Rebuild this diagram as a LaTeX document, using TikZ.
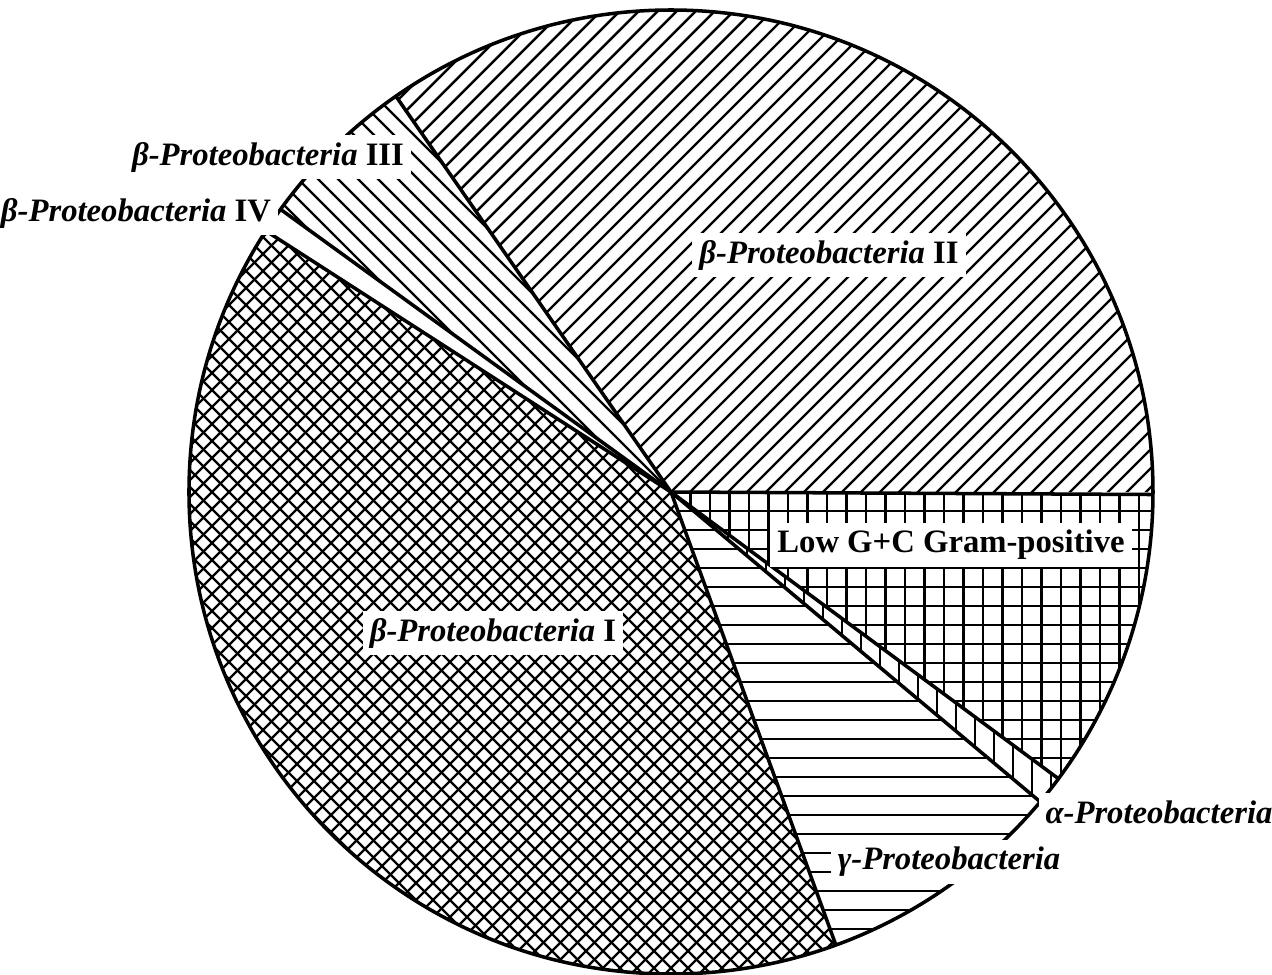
\documentclass[tikz,border=0pt]{standalone}
\usepackage{fontspec}
\setmainfont{Liberation Serif}
\tikzset{
  hatch/.style={line width=0.7pt},
  rim/.style={line width=1pt},
  lbl/.style={fill=white, inner sep=2pt, font=\fontsize{9.3}{11}\selectfont\bfseries},
}
\newcommand{\rad}{4.82}
\begin{document}
\begin{tikzpicture}
\useasboundingbox (-6.71,-4.83) rectangle (6.01,4.92);
\coordinate (O) at (0,0);
% beta II
\begin{scope}
\clip (O) -- (0:\rad) arc (0:124.8:\rad) -- cycle;
\foreach \i in {-36,...,36} \draw[hatch] (\i*0.19,0) ++(-6,-6) -- ++(12,12);
\end{scope}
% beta III
\begin{scope}
\clip (O) -- (124.8:\rad) arc (124.8:144.1:\rad) -- cycle;
\foreach \i in {-36,...,36} \draw[hatch] (\i*0.2,0) ++(-6,6) -- ++(12,-12);
\end{scope}
% beta I
\begin{scope}
\clip (O) -- (147.2:\rad) arc (147.2:290:\rad) -- cycle;
\foreach \i in {-40,...,40} {
  \draw[hatch] (\i*0.17,0) ++(-6,-6) -- ++(12,12);
  \draw[hatch] (\i*0.17,0) ++(-6,6) -- ++(12,-12);
}
\end{scope}
% gamma
\begin{scope}
\clip (O) -- (290:\rad) arc (290:320:\rad) -- cycle;
\foreach \i in {-26,...,0} \draw[hatch] (-1,\i*0.19) -- (6,\i*0.19);
\end{scope}
% alpha
\begin{scope}
\clip (O) -- (320:\rad) arc (320:323.5:\rad) -- cycle;
\foreach \i in {0,...,26} \draw[hatch] (\i*0.19,1) -- (\i*0.19,-6);
\end{scope}
% low G+C
\begin{scope}
\clip (O) -- (323.5:\rad) arc (323.5:359.7:\rad) -- cycle;
\foreach \i in {0,...,26} {
  \draw[hatch] (\i*0.195,1) -- (\i*0.195,-6);
  \draw[hatch] (-1,-\i*0.19) -- (6,-\i*0.19);
}
\end{scope}
% slice edges
\foreach \a in {-0.3,124.8,144.1,147.2,290,320,323.5}
  \draw[rim] (O) -- (\a:\rad);
\draw[rim] (O) circle (\rad);
% labels
\node (b2) at (1.58,2.37) [lbl] {\textit{β-Proteobacteria} II};
\node (b3) at (-4.03,3.35) [lbl] {\textit{β-Proteobacteria} III};
\node (b4) at (-5.35,2.79) [lbl] {\textit{β-Proteobacteria} IV};
\node (gc) at (2.80,-0.53) [lbl] {Low G+C Gram-positive};
\node (b1) at (-1.78,-1.41) [lbl] {\textit{β-Proteobacteria} I};
\node (al) at (4.88,-3.20) [lbl] {\textit{α-Proteobacteria}};
\node (ga) at (2.78,-3.70) [lbl] {\textit{γ-Proteobacteria}};
\end{tikzpicture}
\end{document}
